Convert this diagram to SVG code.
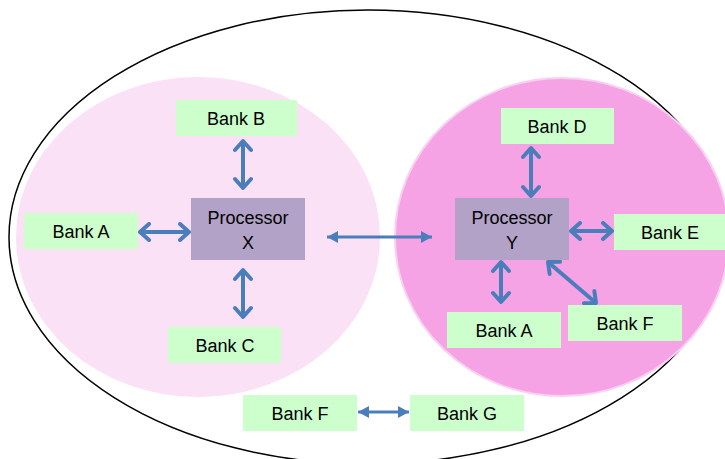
<svg xmlns="http://www.w3.org/2000/svg" width="725" height="459" viewBox="0 0 725 459">
<style>
.bank{fill:#CCFFCC}
.proc{fill:#B3A2C7}
text{font-family:"Liberation Sans",Arial,sans-serif;font-size:18px;fill:#000;text-anchor:middle}
.thick{stroke:#4A7EBB;stroke-width:4;fill:none}
.thin{stroke:#4A7EBB;stroke-width:3;fill:none}
</style>
<defs>
<marker id="chev" markerUnits="userSpaceOnUse" markerWidth="16" markerHeight="20" refX="12" refY="10" orient="auto-start-reverse" viewBox="0 0 16 20">
<path d="M3,2 L12,10 L3,18" fill="none" stroke="#4A7EBB" stroke-width="4" stroke-linecap="round" stroke-linejoin="round"/>
</marker>
<marker id="tri" markerUnits="userSpaceOnUse" markerWidth="12" markerHeight="12" refX="11" refY="6" orient="auto-start-reverse" viewBox="0 0 12 12">
<path d="M0,0 L11,6 L0,12 z" fill="#4A7EBB"/>
</marker>
</defs>
<rect width="725" height="459" fill="#fff"/>
<ellipse cx="368" cy="237" rx="359" ry="227" fill="none" stroke="#000" stroke-width="1.5"/>
<ellipse id="groupX" cx="198" cy="237" rx="182" ry="160" fill="#FAE1F6"/>
<ellipse id="groupY" cx="562" cy="237" rx="167" ry="159" fill="#F5A3E5" stroke="#F9D0F1" stroke-width="2"/>

<g id="connectors">
<line class="thick" x1="243" y1="141" x2="243" y2="188" marker-start="url(#chev)" marker-end="url(#chev)"/>
<line class="thick" x1="140" y1="232" x2="189" y2="232" marker-start="url(#chev)" marker-end="url(#chev)"/>
<line class="thick" x1="243" y1="270" x2="243" y2="317" marker-start="url(#chev)" marker-end="url(#chev)"/>
<line class="thin" x1="327" y1="237" x2="432" y2="237" marker-start="url(#tri)" marker-end="url(#tri)"/>
<line class="thick" x1="531" y1="148" x2="531" y2="196" marker-start="url(#chev)" marker-end="url(#chev)"/>
<line class="thick" x1="571" y1="231" x2="612" y2="231" marker-start="url(#chev)" marker-end="url(#chev)"/>
<line class="thick" x1="501" y1="262" x2="501" y2="302" marker-start="url(#chev)" marker-end="url(#chev)"/>
<line class="thick" x1="548" y1="262" x2="596" y2="303" marker-start="url(#chev)" marker-end="url(#chev)"/>
<line class="thin" x1="358" y1="412" x2="409" y2="412" marker-start="url(#tri)" marker-end="url(#tri)"/>
</g>

<g id="procX"><rect class="proc" x="191" y="198" width="114" height="62"/><text x="248" y="224">Processor</text><text x="248" y="249">X</text></g>
<g id="procY"><rect class="proc" x="455" y="198" width="114" height="62"/><text x="512" y="224">Processor</text><text x="512" y="249">Y</text></g>
<g id="bankB"><rect class="bank" x="176" y="100" width="121" height="36"/><text x="236" y="125">Bank B</text></g>
<g id="bankA1"><rect class="bank" x="24" y="213" width="114" height="36"/><text x="81" y="238">Bank A</text></g>
<g id="bankC"><rect class="bank" x="168" y="327" width="113" height="36"/><text x="225" y="352">Bank C</text></g>
<g id="bankD"><rect class="bank" x="501" y="108" width="113" height="36"/><text x="557" y="133">Bank D</text></g>
<g id="bankE"><rect class="bank" x="614" y="214" width="114" height="36"/><text x="670" y="239">Bank E</text></g>
<g id="bankA2"><rect class="bank" x="447" y="312" width="114" height="36"/><text x="504" y="337">Bank A</text></g>
<g id="bankF1"><rect class="bank" x="568" y="305" width="114" height="36"/><text x="625" y="330">Bank F</text></g>
<g id="bankF2"><rect class="bank" x="243" y="395" width="114" height="36"/><text x="300" y="420">Bank F</text></g>
<g id="bankG"><rect class="bank" x="410" y="395" width="114" height="36"/><text x="467" y="420">Bank G</text></g>
</svg>
